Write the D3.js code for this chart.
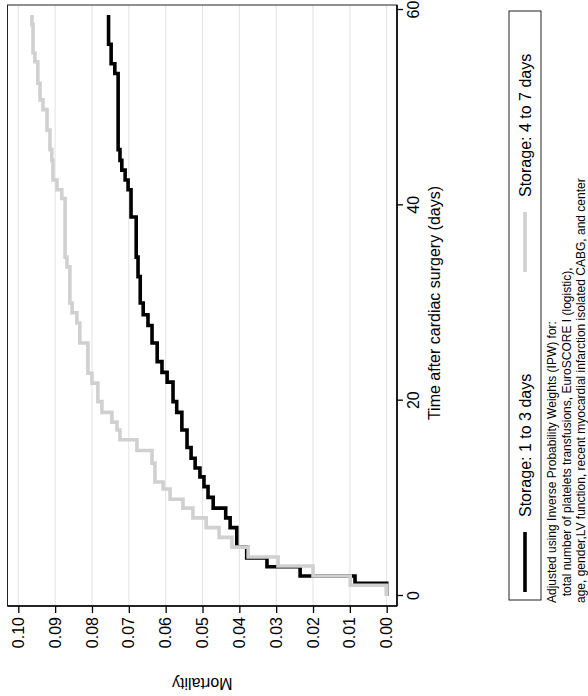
<!DOCTYPE html>
<html>
<head>
<meta charset="utf-8">
<script src="https://cdn.jsdelivr.net/npm/d3@7"></script>
<style>
body { margin: 0; background: #fff; }
text { font-family: "Liberation Sans", Arial, Helvetica, sans-serif; }
</style>
</head>
<body>
<div id="grafico"></div>
<script>

// Storage: 1 to 3 days
const dias13 = [0, 1.3, 2.05, 3.0, 3.9, 5.0, 7.0, 8.0, 9.0, 10.1, 11.2, 12.2, 13.1, 14.1, 15.2, 17.0, 18.8, 19.9, 21.9, 22.9,
                24.0, 25.9, 27.7, 28.8, 30.0, 32.7, 34.7, 38.8, 41.6, 42.6, 43.6, 44.6, 45.7, 53.5, 54.5, 56.5, 59.5];
const mort13 = [0, 0.0086, 0.0235, 0.0325, 0.038, 0.0407, 0.0425, 0.0437, 0.0471, 0.0485, 0.0496, 0.0507, 0.052, 0.0531, 0.0542, 0.0556, 0.057, 0.058, 0.0596, 0.061,
                0.0623, 0.0637, 0.0648, 0.0661, 0.0669, 0.0675, 0.068, 0.0694, 0.0702, 0.071, 0.0719, 0.0724, 0.0729, 0.0738, 0.0748, 0.0755, 0.0755];

// Storage: 4 to 7 days
const dias47 = [0, 1.1, 2.05, 3.07, 4.0, 5.0, 6.0, 7.0, 8.0, 9.0, 9.9, 10.96, 11.67, 13.6, 14.9, 16.0, 17.0, 17.8, 18.8, 19.9,
                21.8, 22.8, 25.9, 27.95, 29.0, 30.0, 33.7, 34.7, 40.7, 41.6, 42.6, 44.6, 45.7, 47.7, 49.8, 50.8, 52.5, 54.7, 55.6, 58.5, 59.5];
const mort47 = [0, 0.0099, 0.020, 0.0295, 0.0376, 0.042, 0.0455, 0.049, 0.0526, 0.0553, 0.0588, 0.0607, 0.0629, 0.0637, 0.0678, 0.0724, 0.0732, 0.0746, 0.0773, 0.0784,
                0.080, 0.0811, 0.0833, 0.0841, 0.0854, 0.086, 0.0868, 0.0873, 0.0882, 0.0895, 0.0906, 0.0909, 0.0914, 0.0922, 0.0933, 0.0941, 0.0947, 0.0955, 0.096, 0.0963, 0.0963];

const mortTicks = [0, 0.01, 0.02, 0.03, 0.04, 0.05, 0.06, 0.07, 0.08, 0.09, 0.10];
const diasTicks = [0, 20, 40, 60];

const legendas = ["Storage: 1 to 3 days", "Storage: 4 to 7 days"];
const notas = [
    "Adjusted using Inverse Probability Weights (IPW) for:",
    "  total number of platelets transfusions, EuroSCORE I (logistic),",
    "age, gender,LV function, recent myocardial infarction isolated CABG, and center"
];

const xSize = 588;
const ySize = 696;

// the chart is drawn unrotated (width = 696, height = 588) and turned 90deg
const svg = d3.select("#grafico").append("svg")
    .attr("width", xSize)
    .attr("height", ySize);

const g = svg.append("g").attr("transform", `translate(0, ${ySize}) rotate(-90)`);

const plot = {left: 90, right: 691, top: 7.5, bottom: 397};

const x = d3.scaleLinear().domain([0, 60]).range([100, 686]);
const y = d3.scaleLinear().domain([0, 0.10]).range([386.7, 18.3]);

// grid
g.append("g")
    .selectAll("line")
    .data(mortTicks).enter()
    .append("line")
    .attr("x1", plot.left)
    .attr("x2", plot.right)
    .attr("y1", d => y(d))
    .attr("y2", d => y(d))
    .attr("stroke", "#e3e3e3")
    .attr("stroke-width", 1);

// frame
g.append("rect")
    .attr("x", plot.left)
    .attr("y", plot.top)
    .attr("width", plot.right - plot.left)
    .attr("height", plot.bottom - plot.top)
    .attr("fill", "none")
    .attr("stroke", "#222")
    .attr("stroke-width", 1);

// curves
const linha = d3.line()
    .x(d => x(d[0]))
    .y(d => y(d[1]))
    .curve(d3.curveStepAfter);

const series = [
    {dados: d3.zip(dias13, mort13), cor: "#000000"},
    {dados: d3.zip(dias47, mort47), cor: "#d0d0d0"}
];

g.append("g")
    .selectAll("path")
    .data(series).enter()
    .append("path")
    .attr("d", d => linha(d.dados))
    .attr("fill", "none")
    .attr("stroke", d => d.cor)
    .attr("stroke-width", 3.6);

// axes
const eixoY = g.append("g")
    .attr("transform", `translate(${plot.left}, 0)`)
    .call(d3.axisLeft(y).tickValues(mortTicks).tickFormat(d3.format(".2f")).tickSize(7).tickPadding(4));

const eixoX = g.append("g")
    .attr("transform", `translate(0, ${plot.bottom})`)
    .call(d3.axisBottom(x).tickValues(diasTicks).tickSize(6).tickPadding(5));

[eixoY, eixoX].forEach(ax => {
    ax.select(".domain").remove();
    ax.selectAll("line").attr("stroke", "#000").attr("stroke-width", 1.3);
    ax.selectAll("text").attr("font-size", 16).attr("fill", "#000")
        .attr("font-family", "'Liberation Sans', Arial, sans-serif");
});

g.append("line")
    .attr("x1", plot.left).attr("x2", plot.left)
    .attr("y1", plot.top).attr("y2", plot.bottom)
    .attr("stroke", "#000").attr("stroke-width", 1.6);

g.append("line")
    .attr("x1", plot.left).attr("x2", plot.right)
    .attr("y1", plot.bottom).attr("y2", plot.bottom)
    .attr("stroke", "#000").attr("stroke-width", 1.6);

// titles
g.append("text")
    .attr("x", x(30))
    .attr("y", 440)
    .attr("text-anchor", "middle")
    .attr("font-size", 16)
    .text("Time after cardiac surgery (days)");

g.append("text")
    .attr("transform", `translate(18, ${(plot.top + plot.bottom) / 2}) rotate(-90)`)
    .attr("text-anchor", "middle")
    .attr("font-size", 16)
    .text("Mortality");

// legend
const legend = g.append("g").attr("transform", "translate(96, 509)");

legend.append("rect")
    .attr("width", 589)
    .attr("height", 32)
    .attr("fill", "#fff")
    .attr("stroke", "#222")
    .attr("stroke-width", 1);

const chaves = legend.selectAll("g.chave")
    .data(series).enter()
    .append("g")
    .attr("class", "chave")
    .attr("transform", (d, i) => `translate(${8 + i * 320}, 0)`);

chaves.append("line")
    .attr("x1", 0).attr("x2", 60)
    .attr("y1", 16).attr("y2", 16)
    .attr("stroke", d => d.cor)
    .attr("stroke-width", 3.6);

chaves.append("text")
    .attr("x", 75)
    .attr("y", 22)
    .attr("font-size", 16)
    .text((d, i) => legendas[i]);

// note
g.append("g")
    .selectAll("text")
    .data(notas).enter()
    .append("text")
    .attr("x", 93)
    .attr("y", (d, i) => 556 + i * 14.5)
    .attr("font-size", 12)
    .attr("font-family", "'Liberation Sans Narrow', 'Arial Narrow', sans-serif")
    .attr("xml:space", "preserve")
    .style("white-space", "pre")
    .text(d => d);

</script>
</body>
</html>
